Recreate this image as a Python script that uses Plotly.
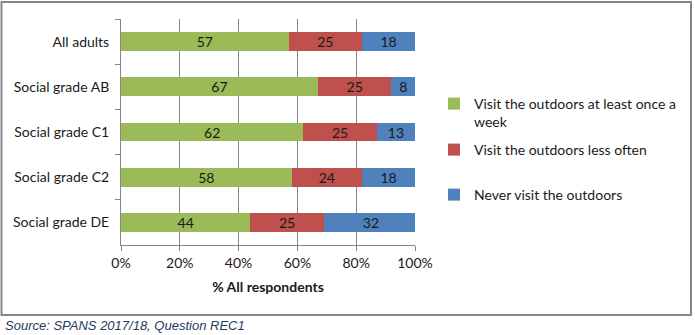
import plotly.graph_objects as go

categories = ["All adults", "Social grade AB", "Social grade C1", "Social grade C2", "Social grade DE"]
weekly = [57, 67, 62, 58, 44]
less_often = [25, 25, 25, 24, 25]
never = [18, 8, 13, 18, 32]
series_names = [
    "Visit the outdoors at least once a<br>week",
    "Visit the outdoors less often",
    "Never visit the outdoors",
]
series_colors = ["#9BBB59", "#C0504D", "#4F81BD"]
x_ticks = [0, 20, 40, 60, 80, 100]
x_tick_labels = ["0%", "20%", "40%", "60%", "80%", "100%"]

FONT = "Lato, Open Sans, sans-serif"
INK = "#1a1a1a"
GREY = "#868686"

L, T, W, H = 121, 19, 294, 226


def px_to_paper_x(px):
    return (px - L) / W


def px_to_paper_y(py):
    return (T + H - py) / H


legend_ids = ["legend", "legend2", "legend3"]
legend_centres = [113, 150, 195]

fig = go.Figure()
for name, vals, col, lid in zip(series_names, [weekly, less_often, never], series_colors, legend_ids):
    fig.add_trace(go.Bar(
        y=categories, x=vals, name=name, orientation="h",
        marker=dict(color=col, line=dict(width=0)),
        text=[str(v) for v in vals], textposition="inside",
        insidetextanchor="middle", textangle=0, constraintext="none",
        textfont=dict(family=FONT, size=14, color=INK),
        legend=lid,
    ))

legend_style = dict(
    x=px_to_paper_x(434), xanchor="left", yanchor="middle",
    font=dict(family=FONT, size=14, color=INK),
    itemwidth=30, valign="top", bgcolor="rgba(0,0,0,0)",
)

fig.update_layout(
    width=695, height=335,
    margin=dict(l=L, r=695 - L - W, t=T, b=335 - T - H, autoexpand=False),
    barmode="stack", bargap=0.58,
    plot_bgcolor="white", paper_bgcolor="white",
    font=dict(family=FONT, size=14, color=INK),
    showlegend=True,
    legend=dict(y=px_to_paper_y(legend_centres[0]), **legend_style),
    legend2=dict(y=px_to_paper_y(legend_centres[1]), **legend_style),
    legend3=dict(y=px_to_paper_y(legend_centres[2]), **legend_style),
    xaxis=dict(
        range=[0, 100], tickvals=x_ticks, ticktext=x_tick_labels,
        showgrid=True, gridcolor=GREY, gridwidth=1,
        showline=True, linecolor=GREY, linewidth=1,
        ticks="outside", ticklen=5, tickcolor=GREY,
        zeroline=False,
        title=dict(text="<b>% All respondents</b>", standoff=12,
                   font=dict(family=FONT, size=14, color=INK)),
        tickfont=dict(family=FONT, size=14, color=INK),
    ),
    yaxis=dict(
        categoryorder="array", categoryarray=categories, autorange="reversed",
        showline=True, linecolor=GREY, linewidth=1,
        ticks="outside", ticklen=5, tickcolor=GREY,
        tickson="boundaries", showgrid=False, ticklabelstandoff=8,
        tickfont=dict(family=FONT, size=14, color=INK),
    ),
)

# outer frame around the chart body
fig.add_shape(
    type="rect", xref="paper", yref="paper",
    x0=px_to_paper_x(1.5), x1=px_to_paper_x(691),
    y0=px_to_paper_y(315), y1=px_to_paper_y(2),
    line=dict(color=GREY, width=2), fillcolor="rgba(0,0,0,0)",
)

fig.add_annotation(
    text="<i>Source: SPANS 2017/18, Question REC1</i>",
    xref="paper", yref="paper",
    x=px_to_paper_x(3), y=px_to_paper_y(325),
    xanchor="left", yanchor="middle", showarrow=False,
    font=dict(family="Liberation Sans, Arial, sans-serif", size=13, color="#1f3a60"),
)

fig.write_html("out.html")
